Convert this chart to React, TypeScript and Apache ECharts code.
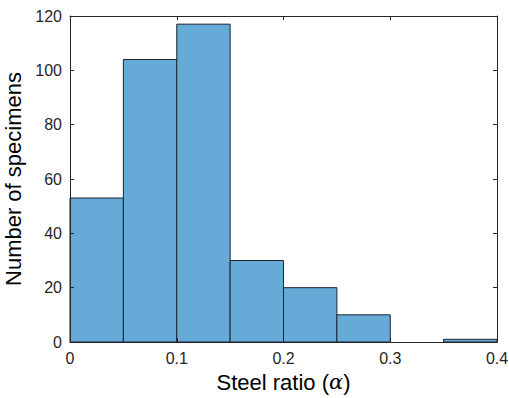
import React, { useEffect, useRef } from "react";
import * as echarts from "echarts";

// Histogram bins of the steel ratio and their counts
const binEdges = [0, 0.05, 0.1, 0.15, 0.2, 0.25, 0.3, 0.35, 0.4];
const counts = [53, 104, 117, 30, 20, 10, 0, 1];
const xTicks = [0, 0.1, 0.2, 0.3, 0.4];
const yTicks = [0, 20, 40, 60, 80, 100, 120];

const axisColor = "#262626";
const barColor = "#66AAD7";
const font = "Arial, 'Liberation Sans', Helvetica, sans-serif";

export default function App() {
  const ref = useRef<HTMLDivElement>(null);

  useEffect(() => {
    if (!ref.current) return;
    const chart = echarts.init(ref.current, undefined, { renderer: "svg" });

    const bins = counts.map((c, i) => [binEdges[i], binEdges[i + 1], c]);

    const common = () => ({
      z: 5,
      axisLine: { show: true, onZero: false, lineStyle: { color: axisColor, width: 1 } },
      axisTick: { show: true, inside: true, length: 4, lineStyle: { color: axisColor } },
      splitLine: { show: false },
    });

    const xMin = xTicks[0];
    const xMax = xTicks[xTicks.length - 1];
    const yMin = yTicks[0];
    const yMax = yTicks[yTicks.length - 1];

    chart.setOption({
      animation: false,
      grid: { left: 70, right: 12, top: 16, bottom: 56, containLabel: false, outerBoundsMode: "none" },
      xAxis: [
        {
          type: "value",
          position: "bottom",
          min: xMin,
          max: xMax,
          interval: 0.1,
          ...common(),
          axisLabel: {
            color: axisColor,
            fontFamily: font,
            fontSize: 16,
            margin: 8,
            formatter: (v: number) => String(Math.round(v * 10) / 10),
          },
          name: "{t|Steel ratio (}{a|α}{t|)}",
          nameLocation: "middle",
          nameGap: 29,
          nameTextStyle: {
            rich: {
              t: { fontFamily: font, fontSize: 22, color: "#000" },
              a: { fontFamily: "'DejaVu Serif', serif", fontStyle: "italic", fontSize: 21, color: "#000" },
            },
          },
        },
        {
          type: "value",
          position: "top",
          min: xMin,
          max: xMax,
          interval: 0.1,
          ...common(),
          axisLabel: { show: false },
        },
      ],
      yAxis: [
        {
          type: "value",
          position: "left",
          min: yMin,
          max: yMax,
          interval: 20,
          ...common(),
          axisLabel: { color: axisColor, fontFamily: font, fontSize: 16, margin: 8 },
          name: "Number of specimens",
          nameLocation: "middle",
          nameGap: 42,
          nameTextStyle: { fontFamily: font, fontSize: 22, color: "#000" },
        },
        {
          type: "value",
          position: "right",
          min: yMin,
          max: yMax,
          interval: 20,
          ...common(),
          axisLabel: { show: false },
        },
      ],
      series: [
        {
          type: "custom",
          xAxisIndex: 0,
          yAxisIndex: 0,
          data: bins,
          encode: { x: [0, 1], y: 2 },
          renderItem: (params: any, api: any) => {
            const x0 = api.value(0);
            const x1 = api.value(1);
            const c = api.value(2);
            if (c <= 0) return null;
            const p0 = api.coord([x0, 0]);
            const p1 = api.coord([x1, c]);
            return {
              type: "rect",
              shape: { x: p0[0], y: p1[1], width: p1[0] - p0[0], height: p0[1] - p1[1] },
              style: { fill: barColor, stroke: "#1c2530", lineWidth: 1 },
            };
          },
          z: 1,
        },
      ],
    });

    return () => chart.dispose();
  }, []);

  return <div ref={ref} style={{ width: 509, height: 398, position: "absolute", left: 0, top: 0, background: "#fff" }} />;
}
